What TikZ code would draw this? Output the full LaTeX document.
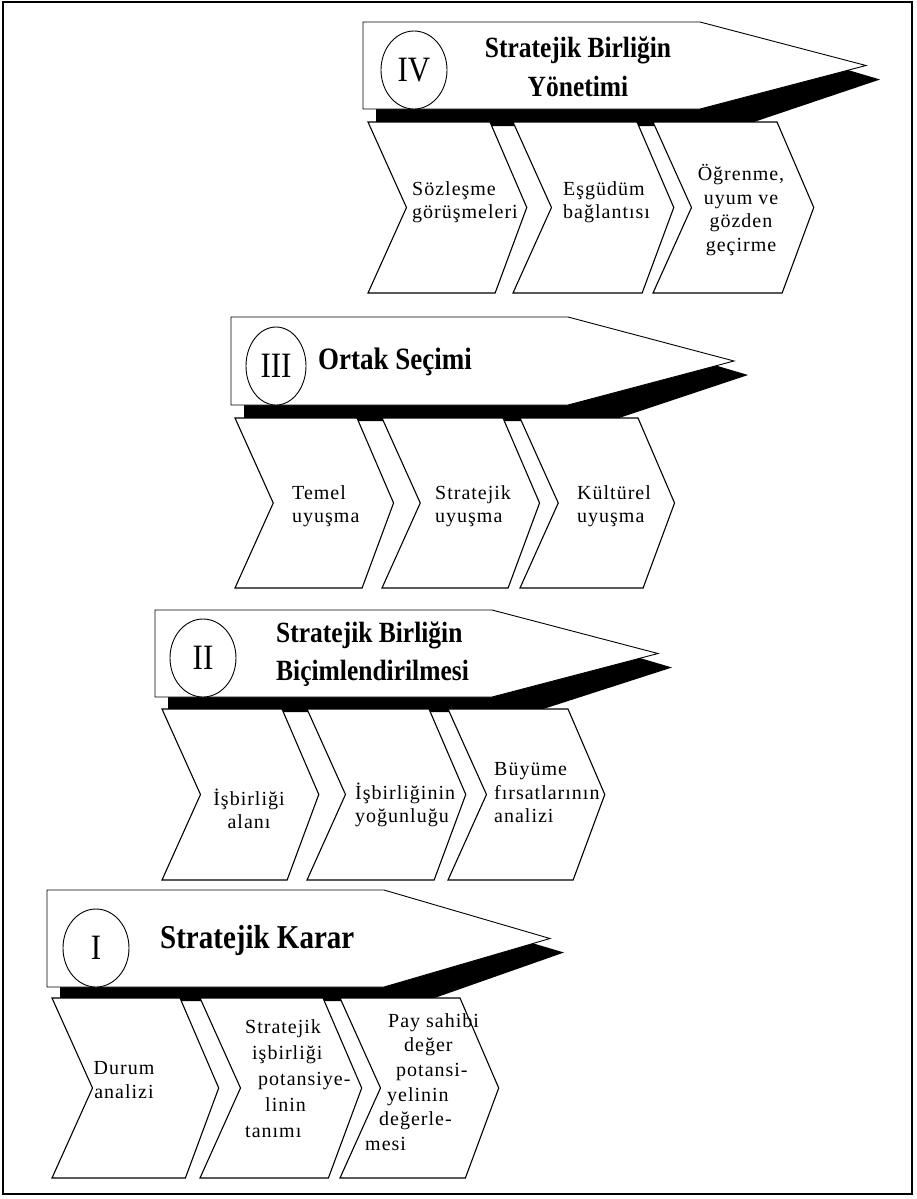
\documentclass[tikz,border=0pt]{standalone}
\usepackage{graphicx}
\usepackage{fontspec}
\setmainfont{Liberation Serif}
\newfontfamily\chevfont{Liberation Serif}[LetterSpace=5]
\usetikzlibrary{shapes.geometric}

\newcommand\vstretch[1]{\scalebox{1}[1.15]{#1}}
\newcommand\drawbanner[4]{% L, T, B, shadow bottom
  \fill[black] ({#1+13},{#3-5}) -- ({#1+13},{#4}) -- ({#1+379},{#4})
     -- ({#1+517},{(#2+#3)/2+14}) -- ({#1+463},{(#2+#3)/2-2}) -- cycle;
  \draw[bannerbox] (#1,#2) -- ({#1+337},#2) -- ({#1+503},{(#2+#3)/2})
     -- ({#1+337},#3) -- (#1,#3) -- cycle;
}
\newcommand\drawchev[4]{% TL, w, top, bottom
  \draw[chevbox] (#1,#3) -- ({#1+#2},#3) -- ({#1+#2+0.43*(#4-#3)/2},{(#3+#4)/2})
     -- ({#1+#2+0.06*(#4-#3)/2},#4) -- (#1,#4) -- ({#1+0.45*(#4-#3)/2},{(#3+#4)/2}) -- cycle;
}

\begin{document}
\begin{tikzpicture}[x=1pt,y=-1pt,
  bannerbox/.style={draw=black, fill=white, line width=0.9pt, line join=miter},
  chevbox/.style={draw=black, fill=white, line width=1.1pt, line join=miter},
  numeral/.style={draw=black, fill=white, line width=0.9pt, ellipse, inner sep=0pt,
     minimum width=66pt, minimum height=78pt, font=\fontsize{31}{31}\selectfont},
  titletext/.style={font=\bfseries\fontsize{25.5}{39}\selectfont, inner sep=0pt},
  chevtext/.style={font=\chevfont\fontsize{20}{23.5}\selectfont, inner sep=0pt, align=left},
]
\useasboundingbox (0,0) rectangle (917,1199);
\fill[white] (0,0) rectangle (917,1199);
\draw[line width=1.4pt] (3,2) rectangle (912,1194);

% ---------- Section IV ----------
\drawbanner{363}{22}{109}{126}
\node[numeral] (n4) at (414,70) {\vstretch{IV}};
\node[titletext, align=center] (h4) at (578,67) {\vstretch{Stratejik Birliğin}\\\vstretch{Yönetimi}};
\drawchev{368}{122}{122}{293}
\drawchev{513}{124}{122}{293}
\drawchev{653}{124}{122}{293}
\node[chevtext, anchor=west] (t4a) at (412,202) {Sözleşme\\görüşmeleri};
\node[chevtext, anchor=west] (t4b) at (563,202) {Eşgüdüm\\bağlantısı};
\node[chevtext, align=center] (t4c) at (741,210) {Öğrenme,\\uyum ve\\gözden\\geçirme};

% ---------- Section III ----------
\drawbanner{231}{317}{405}{421}
\node[numeral, minimum width=60pt] (n3) at (276,366) {\vstretch{III}};
\node[titletext, anchor=west, font=\bfseries\fontsize{27}{30}\selectfont] (h3) at (318,362) {\vstretch{Ortak Seçimi}};
\drawchev{235}{122}{418}{588}
\drawchev{382}{121}{418}{588}
\drawchev{520}{118}{418}{588}
\node[chevtext, anchor=west] (t3a) at (292,506) {Temel\\uyuşma};
\node[chevtext, anchor=west] (t3b) at (435,506) {Stratejik\\uyuşma};
\node[chevtext, anchor=west] (t3c) at (577,506) {Kültürel\\uyuşma};

% ---------- Section II ----------
\drawbanner{155}{610}{697}{712}
\node[numeral] (n2) at (203,658) {\vstretch{II}};
\node[titletext, anchor=west, align=left, font=\bfseries\fontsize{25.5}{38}\selectfont] (h2) at (276,654) {\vstretch{Stratejik Birliğin}\\\vstretch{Biçimlendirilmesi}};
\drawchev{162}{120}{709}{880}
\drawchev{307}{122}{709}{880}
\drawchev{448}{120}{709}{880}
\node[chevtext, align=center] (t2a) at (249,809) {İşbirliği\\alanı};
\node[chevtext, anchor=west] (t2b) at (355,805) {İşbirliğinin\\yoğunluğu};
\node[chevtext, anchor=west] (t2c) at (494,793) {Büyüme\\fırsatlarının\\analizi};

% ---------- Section I ----------
\drawbanner{47}{890}{987}{1001}
\node[numeral] (n1) at (96,948) {\vstretch{I}};
\node[titletext, anchor=west, font=\bfseries\fontsize{29}{30}\selectfont] (h1) at (160,940) {\vstretch{Stratejik Karar}};
\drawchev{52}{128}{998}{1178}
\drawchev{200}{123}{998}{1178}
\drawchev{340}{120}{998}{1178}
\node[chevtext, align=center] (t1a) at (124,1080) {Durum\\analizi};
\node[chevtext, anchor=west, font=\chevfont\fontsize{20}{26}\selectfont] (t1b) at (245,1079)
  {Stratejik\\\hspace*{7pt}işbirliği\\\hspace*{13pt}potansiye-\\\hspace*{20pt}linin\\tanımı};
\node[chevtext, anchor=west, font=\chevfont\fontsize{20}{24.6}\selectfont] (t1c) at (365,1082)
  {\hspace*{23pt}Pay~sahibi\\\hspace*{39pt}değer\\\hspace*{31pt}potansi-\\\hspace*{22pt}yelinin\\\hspace*{14pt}değerle-\\mesi};
\end{tikzpicture}
\end{document}
